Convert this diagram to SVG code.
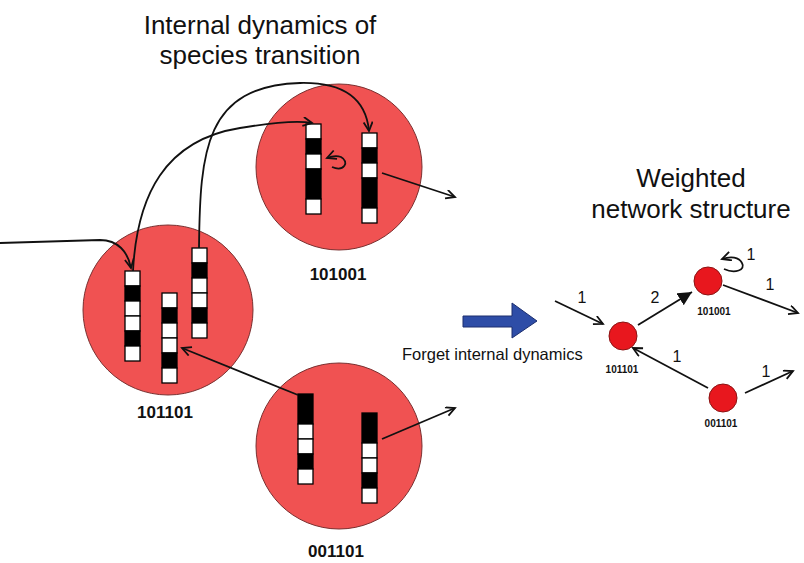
<svg xmlns="http://www.w3.org/2000/svg" width="804" height="563" viewBox="0 0 804 563">
<style>
.t{font-family:"Liberation Sans",Arial,sans-serif;fill:#111}
.big{fill:#F05252;stroke:#7a3030;stroke-width:1}
.node{fill:#E8171E;stroke:#8a1414;stroke-width:1}
.w{fill:#fff;stroke:#000;stroke-width:1.3}
.b{fill:#000;stroke:#000;stroke-width:1.3}
.ln{fill:none;stroke:#111;stroke-width:1.8}
.lbl{font-family:"Liberation Sans",Arial,sans-serif;font-weight:bold;fill:#111;text-anchor:middle}
.num{font-family:"Liberation Sans",Arial,sans-serif;font-size:16px;fill:#111;text-anchor:middle}
</style>
<defs>
<marker id="a" markerUnits="userSpaceOnUse" markerWidth="14" markerHeight="14" refX="10" refY="5" orient="auto">
<path d="M1,0.5 L10,5 L1,9.5" fill="none" stroke="#111" stroke-width="1.8"/>
</marker>
<marker id="af" markerUnits="userSpaceOnUse" markerWidth="18" markerHeight="18" refX="14" refY="7" orient="auto">
<path d="M0,0 L14,7 L0,14 Z" fill="#111"/>
</marker>
</defs>
<rect width="804" height="563" fill="#fff"/>

<text class="t" x="260" y="34" font-size="26" text-anchor="middle">Internal dynamics of</text>
<text class="t" x="260" y="64" font-size="26" text-anchor="middle">species transition</text>
<text class="t" x="691" y="187" font-size="26" text-anchor="middle">Weighted</text>
<text class="t" x="691" y="218" font-size="26" text-anchor="middle">network structure</text>

<g id="species-101001">
<circle class="big" cx="339" cy="167" r="83"/>
<g>
<rect class="w" x="306" y="124" width="15" height="15"/><rect class="b" x="306" y="139" width="15" height="15"/><rect class="w" x="306" y="154" width="15" height="15"/><rect class="b" x="306" y="169" width="15" height="30"/><rect class="w" x="306" y="199" width="15" height="15"/>
</g>
<g>
<rect class="w" x="362" y="133" width="15" height="15"/><rect class="b" x="362" y="148" width="15" height="15"/><rect class="w" x="362" y="163" width="15" height="15"/><rect class="b" x="362" y="178" width="15" height="30"/><rect class="w" x="362" y="208" width="15" height="15"/>
</g>
<text class="lbl" x="338" y="280" font-size="17">101001</text>
</g>

<g id="species-101101">
<circle class="big" cx="168" cy="310" r="85"/>
<g>
<rect class="w" x="125" y="271" width="15" height="15"/><rect class="b" x="125" y="286" width="15" height="15"/><rect class="w" x="125" y="301" width="15" height="15"/><rect class="w" x="125" y="316" width="15" height="15"/><rect class="b" x="125" y="331" width="15" height="15"/><rect class="w" x="125" y="346" width="15" height="15"/>
</g>
<g>
<rect class="w" x="162" y="293" width="15" height="15"/><rect class="b" x="162" y="308" width="15" height="15"/><rect class="w" x="162" y="323" width="15" height="15"/><rect class="w" x="162" y="338" width="15" height="15"/><rect class="b" x="162" y="353" width="15" height="15"/><rect class="w" x="162" y="368" width="15" height="15"/>
</g>
<g>
<rect class="w" x="192" y="248" width="15" height="15"/><rect class="b" x="192" y="263" width="15" height="15"/><rect class="w" x="192" y="278" width="15" height="15"/><rect class="w" x="192" y="293" width="15" height="15"/><rect class="b" x="192" y="308" width="15" height="15"/><rect class="w" x="192" y="323" width="15" height="15"/>
</g>
<text class="lbl" x="165" y="418" font-size="17">101101</text>
</g>

<g id="species-001101">
<circle class="big" cx="339" cy="446" r="83"/>
<g>
<rect class="b" x="298" y="394" width="15" height="30"/><rect class="w" x="298" y="424" width="15" height="15"/><rect class="w" x="298" y="439" width="15" height="15"/><rect class="b" x="298" y="454" width="15" height="15"/><rect class="w" x="298" y="469" width="15" height="15"/>
</g>
<g>
<rect class="b" x="362" y="413" width="15" height="30"/><rect class="w" x="362" y="443" width="15" height="15"/><rect class="w" x="362" y="458" width="15" height="15"/><rect class="b" x="362" y="473" width="15" height="15"/><rect class="w" x="362" y="488" width="15" height="15"/>
</g>
<text class="lbl" x="336" y="557" font-size="17">001101</text>
</g>

<g id="connectors">
<path class="ln" d="M0,243 L100,240 C118,240 128,252 131,268" marker-end="url(#a)"/>
<path class="ln" d="M133,271 C137,195 165,140 240,128 C270,123 295,120 312,123" marker-end="url(#a)"/>
<path class="ln" d="M199,248 C200,150 205,86 300,83 C345,82 366,100 369,131" marker-end="url(#a)"/>
<path class="ln" d="M332,167 C344,172 350,162 341,157 C336,155 332,156 327,158" marker-end="url(#a)"/>
<path class="ln" d="M382,173 L455,197" marker-end="url(#a)"/>
<path class="ln" d="M298,395 L182,348" marker-end="url(#a)"/>
<path class="ln" d="M382,439 L455,408" marker-end="url(#a)"/>
</g>

<g id="forget-arrow">
<polygon points="463,316 512,316 512,303 537,321 512,338 512,327 463,327" fill="#2E4DA7" stroke="#1C2E6E" stroke-width="1"/>
<text class="t" x="402" y="360" font-size="16.5">Forget internal dynamics</text>
</g>

<g id="net-101101">
<circle class="node" cx="623" cy="336" r="14"/>
<text class="lbl" x="622" y="373" font-size="10">101101</text>
</g>
<g id="net-101001">
<circle class="node" cx="708" cy="281" r="14"/>
<text class="lbl" x="714" y="315" font-size="10">101001</text>
</g>
<g id="net-001101">
<circle class="node" cx="723" cy="398" r="14"/>
<text class="lbl" x="721" y="427" font-size="10">001101</text>
</g>

<g id="net-connectors">
<path class="ln" d="M555,301 L603,324" marker-end="url(#a)"/>
<path class="ln" d="M638,325 L692,292" stroke-width="3.5" marker-end="url(#af)"/>
<path class="ln" d="M724,269 C735,274 746,270 742,263 C739,257 731,256 722,259" marker-end="url(#a)"/>
<path class="ln" d="M723,285 L798,313" marker-end="url(#a)"/>
<path class="ln" d="M708,388 L633,348" marker-end="url(#a)"/>
<path class="ln" d="M745,393 L793,371" marker-end="url(#a)"/>
<text class="num" x="582" y="303">1</text>
<text class="num" x="655" y="303">2</text>
<text class="num" x="751" y="260">1</text>
<text class="num" x="770" y="290">1</text>
<text class="num" x="677" y="362">1</text>
<text class="num" x="766" y="377">1</text>
</g>
</svg>
